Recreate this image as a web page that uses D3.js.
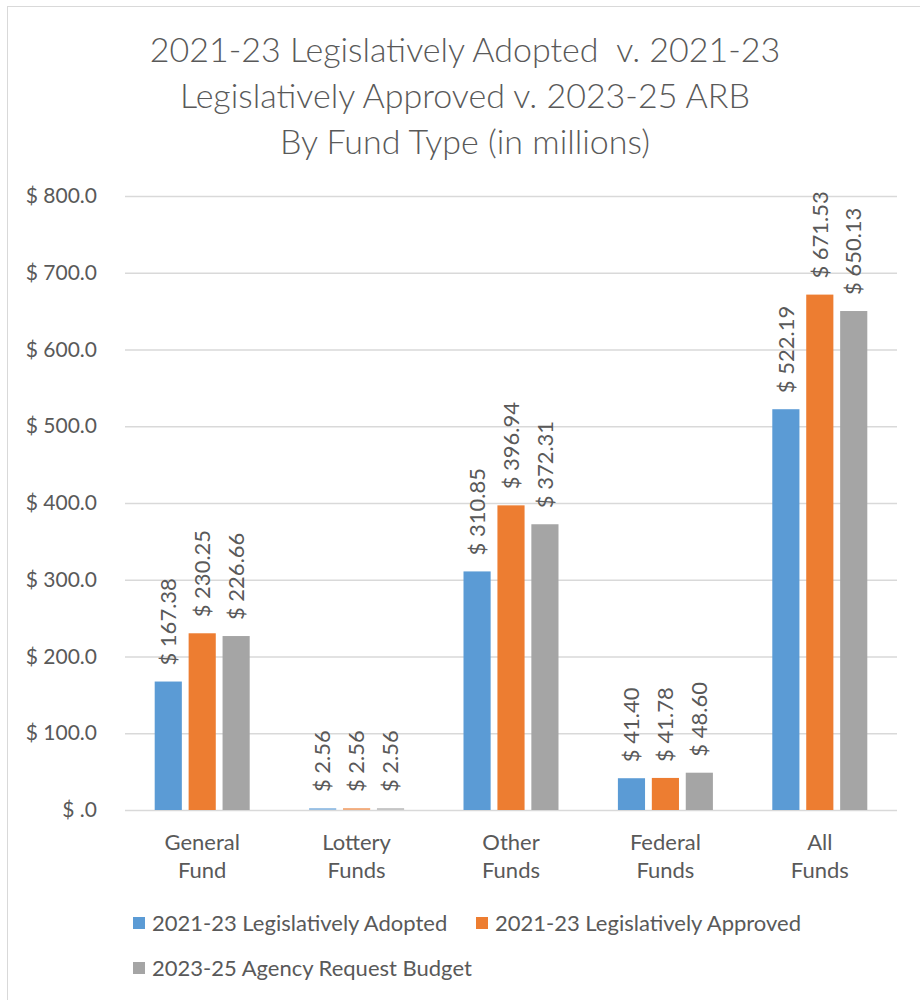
<!DOCTYPE html>
<html><head><meta charset="utf-8">
<script src="https://cdn.jsdelivr.net/npm/d3@7"></script>
<style>body{margin:0;background:#fff}svg{display:block}text{font-family:Lato,"Open Sans",sans-serif;fill:#595959}</style>
</head><body><svg id="c" width="920" height="1000"></svg>
<script>
const categories = ["General Fund","Lottery Funds","Other Funds","Federal Funds","All Funds"];
const seriesNames = ["2021-23 Legislatively Adopted","2021-23 Legislatively Approved","2023-25 Agency Request Budget"];
const adopted  = [167.38, 2.56, 310.85, 41.40, 522.19];
const approved = [230.25, 2.56, 396.94, 41.78, 671.53];
const arb      = [226.66, 2.56, 372.31, 48.60, 650.13];
const yTicks = [0,100,200,300,400,500,600,700,800];
const titleLines = ["2021-23 Legislatively Adopted  v. 2021-23","Legislatively Approved v. 2023-25 ARB","By Fund Type (in millions)"];
const colors = ["#5B9BD5","#ED7D31","#A5A5A5"];

(function(){
const seriesValues = [adopted, approved, arb];
const svg = d3.select("#c");
svg.append("rect").attr("x",7.5).attr("y",6.5).attr("width",930).attr("height",1010)
  .attr("fill","none").attr("stroke","#D9D9D9");

svg.selectAll(".title").data(titleLines).join("text")
  .attr("x",465).attr("y",(d,i)=>62+i*46).attr("text-anchor","middle")
  .attr("font-size",34).attr("font-weight",300).style("white-space","pre").text(d=>d);

const pL=125,pR=897,pT=196,pB=810;
const y = d3.scaleLinear().domain([0,800]).range([pB,pT]);
const x0 = d3.scaleBand().domain(categories).range([pL,pR]);
const x1 = d3.scaleBand().domain(seriesNames).range([x0.bandwidth()/2-47.5, x0.bandwidth()/2+47.5]).paddingInner(0.2);

const gy = svg.append("g").attr("transform",`translate(${pL},0)`)
  .call(d3.axisLeft(y).tickValues(yTicks).tickSize(-(pR-pL)).tickPadding(28)
    .tickFormat(d=> d===0 ? "$ .0" : "$ "+d.toFixed(1)));
gy.select(".domain").remove();
gy.selectAll("line").attr("stroke","#D9D9D9").attr("stroke-width",1.5);
gy.selectAll("text").attr("font-size",21).attr("fill","#595959").style("font-family","Lato, sans-serif");

const groups = svg.selectAll(".grp").data(categories).join("g")
  .attr("transform",d=>`translate(${x0(d)},0)`);
const cells = groups.selectAll(".bar").data((c,ci)=>seriesNames.map((s,si)=>({s,si,v:seriesValues[si][ci]}))).join("g");
cells.append("rect")
  .attr("x",d=>x1(d.s)).attr("width",x1.bandwidth())
  .attr("y",d=>y(d.v)).attr("height",d=>pB-y(d.v))
  .attr("fill",d=>colors[d.si]).attr("opacity",d=>d.v<5?0.6:1);
cells.append("text")
  .attr("transform",d=>`translate(${x1(d.s)+x1.bandwidth()/2},${y(d.v)-16}) rotate(-90)`)
  .attr("dy","0.35em").attr("font-size",22).text(d=>"$ "+d.v.toFixed(2));

const gx = svg.append("g");
categories.forEach(c=>{
  const parts=c.split(" ");
  const cx=x0(c)+x0.bandwidth()/2;
  gx.append("text").attr("x",cx).attr("y",850).attr("text-anchor","middle")
    .attr("font-size",22).selectAll("tspan").data(parts).join("tspan")
    .attr("x",cx).attr("dy",(d,i)=>i?28:0).text(d=>d);
});

const legPos=[[133,923],[476,923],[133,968]];
seriesNames.forEach((s,i)=>{
  const [lx,ly]=legPos[i];
  svg.append("rect").attr("x",lx).attr("y",ly-6).attr("width",12).attr("height",12).attr("fill",colors[i]);
  svg.append("text").attr("x",lx+19).attr("y",ly).attr("dy","0.35em").attr("font-size",22).text(s);
});
})();
</script></body></html>
